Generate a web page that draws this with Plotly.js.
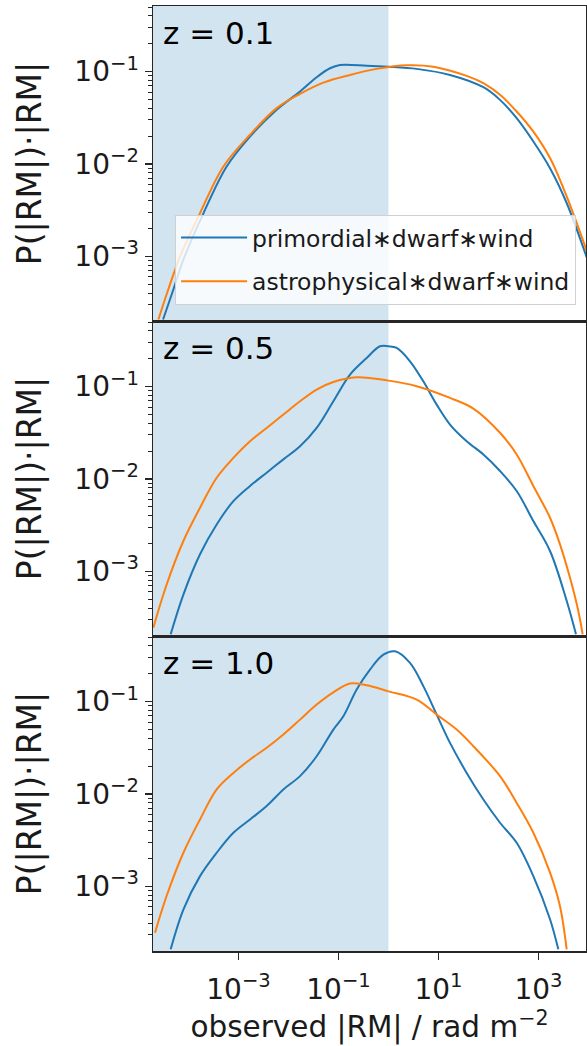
<!DOCTYPE html>
<html>
<head>
<meta charset="utf-8">
<script src="https://cdn.plot.ly/plotly-3.0.1.min.js"></script>
<style>
  html, body { margin: 0; padding: 0; background: #fff; }
  #chart { width: 587px; height: 1046px; }
</style>
</head>
<body>
<div id="chart"></div>
<script>
// Distributions of observed |RM| for two magnetic field scenarios at three redshifts.
const seriesNames = ['primordial\u2217dwarf\u2217wind', 'astrophysical\u2217dwarf\u2217wind'];
const redshiftLabels = ['z = 0.1', 'z = 0.5', 'z = 1.0'];

// z = 0.1
const rmPrim01 = [3.1e-5, 5.0e-5, 7.9e-5, 2.0e-4, 5.8e-4, 1.7e-3, 5.8e-3, 0.017, 0.0366, 0.0676, 0.107, 0.366, 1.0, 3.66, 17, 79, 170, 366, 789, 1700, 3660, 9300];
const pPrim01  = [2.07e-4, 4.4e-4, 9.2e-4, 2.94e-3, 9.4e-3, 0.0198, 0.0386, 0.0608, 0.0869, 0.1087, 0.118, 0.116, 0.113, 0.107, 0.092, 0.0677, 0.0494, 0.0313, 0.0175, 9.0e-3, 3.78e-3, 9.6e-4];
const rmAstro01 = [2.5e-5, 3.95e-5, 6.8e-5, 1.7e-4, 5.0e-4, 1.7e-3, 5.8e-3, 0.017, 0.0498, 0.17, 0.58, 2.31, 7.9, 36.6, 79, 170, 366, 789, 1700, 3660, 9300];
const pAstro01  = [2.07e-4, 4.4e-4, 1.0e-3, 2.94e-3, 9.4e-3, 0.0207, 0.0402, 0.0574, 0.076, 0.092, 0.107, 0.117, 0.113, 0.0898, 0.0748, 0.056, 0.037, 0.0224, 0.0116, 4.46e-3, 1.13e-3];

// z = 0.5
const rmPrim05 = [4.4e-5, 7.9e-5, 1.7e-4, 3.66e-4, 7.9e-4, 1.7e-3, 3.66e-3, 7.9e-3, 0.017, 0.0366, 0.0789, 0.17, 0.366, 0.676, 1.0, 1.46, 2.69, 4.97, 9.2, 17, 36.6, 79, 170, 366, 789, 1700, 3660, 5620];
const pPrim05  = [2.08e-4, 5.6e-4, 1.53e-3, 3.22e-3, 5.75e-3, 8.4e-3, 0.0117, 0.0163, 0.0226, 0.0357, 0.0693, 0.135, 0.204, 0.273, 0.273, 0.262, 0.188, 0.114, 0.0638, 0.0388, 0.0256, 0.0184, 0.0122, 7.4e-3, 3.5e-3, 1.66e-3, 4.8e-4, 2.08e-4];
const rmAstro05 = [1.98e-5, 3.66e-5, 7.9e-5, 1.7e-4, 3.66e-4, 7.9e-4, 1.7e-3, 3.66e-3, 7.9e-3, 0.017, 0.0366, 0.0789, 0.231, 1.0, 3.66, 17, 49.8, 170, 366, 789, 1700, 2690, 4270, 6270, 7640];
const pAstro05  = [2.46e-4, 7.2e-4, 2.13e-3, 4.88e-3, 0.0103, 0.0169, 0.0256, 0.0357, 0.0498, 0.0693, 0.0929, 0.112, 0.126, 0.116, 0.101, 0.0754, 0.0578, 0.0316, 0.0184, 8.4e-3, 3.8e-3, 1.96e-3, 8.5e-4, 3.7e-4, 2.08e-4];

// z = 1.0
const rmPrim10 = [4.4e-5, 7.9e-5, 1.7e-4, 3.66e-4, 7.9e-4, 1.7e-3, 3.66e-3, 7.9e-3, 0.017, 0.0366, 0.0789, 0.125, 0.231, 0.426, 0.789, 1.35, 2.69, 4.97, 9.2, 17, 36.6, 79, 170, 366, 789, 1700, 2490];
const pPrim10  = [2.08e-4, 5.6e-4, 1.29e-3, 2.31e-3, 3.8e-3, 5.3e-3, 7.4e-3, 0.0112, 0.0156, 0.0256, 0.0498, 0.0693, 0.135, 0.222, 0.322, 0.35, 0.262, 0.147, 0.0723, 0.0357, 0.0169, 8.7e-3, 4.88e-3, 2.96e-3, 1.29e-3, 4.4e-4, 2.08e-4];
const rmAstro10 = [2.14e-5, 3.66e-5, 7.9e-5, 1.7e-4, 3.66e-4, 7.9e-4, 1.7e-3, 3.66e-3, 7.9e-3, 0.017, 0.0366, 0.0789, 0.17, 0.366, 1.0, 3.66, 9.2, 23.1, 49.8, 170, 366, 789, 1700, 2690, 3660];
const pAstro10  = [3.15e-4, 7.9e-4, 2.31e-3, 5.3e-3, 0.0112, 0.0169, 0.0236, 0.0316, 0.044, 0.0638, 0.0929, 0.126, 0.157, 0.150, 0.129, 0.105, 0.0723, 0.0498, 0.0329, 0.0156, 8.0e-3, 3.8e-3, 1.41e-3, 6.1e-4, 2.08e-4];

// Upper edge of the shaded |RM| band
const shadeUpper = 1;

// Axis ticks
const xTickVals = [1e-3, 1e-1, 1e1, 1e3];
const xTickText = ['10<sup>\u22123</sup>', '10<sup>\u22121</sup>', '10<sup>1</sup>', '10<sup>3</sup>'];
const yTickVals = [1e-3, 1e-2, 1e-1];
const yTickText = ['10<sup>\u22123</sup>', '10<sup>\u22122</sup>', '10<sup>\u22121</sup>'];
const yMinorVals = [3e-4, 4e-4, 5e-4, 6e-4, 7e-4, 8e-4, 9e-4,
                    2e-3, 3e-3, 4e-3, 5e-3, 6e-3, 7e-3, 8e-3, 9e-3,
                    2e-2, 3e-2, 4e-2, 5e-2, 6e-2, 7e-2, 8e-2, 9e-2,
                    2e-1, 3e-1, 4e-1, 5e-1];

const panels = [
  { label: redshiftLabels[0], prim: [rmPrim01, pPrim01], astro: [rmAstro01, pAstro01] },
  { label: redshiftLabels[1], prim: [rmPrim05, pPrim05], astro: [rmAstro05, pAstro05] },
  { label: redshiftLabels[2], prim: [rmPrim10, pPrim10], astro: [rmAstro10, pAstro10] }
];

const colors = ['#1f77b4', '#ff7f0e'];
const font = 'DejaVu Sans, sans-serif';
const frameColor = '#262626';
const textColor = '#1a1a1a';

const traces = [];
const layout = {
  width: 587,
  height: 1046,
  margin: { l: 153, r: 1, t: 6, b: 95 },
  paper_bgcolor: '#ffffff',
  plot_bgcolor: '#ffffff',
  font: { family: font, size: 28, color: textColor },
  showlegend: true,
  legend: {
    x: 0.051, y: 0.779, xanchor: 'left', yanchor: 'top',
    bgcolor: 'rgba(255,255,255,0.8)',
    bordercolor: '#d0d0d0', borderwidth: 1,
    font: { family: font, size: 23.5, color: textColor },
    traceorder: 'grouped', tracegroupgap: 10,
    itemwidth: 66
  },
  shapes: [],
  annotations: []
};

panels.forEach((p, i) => {
  const n = i + 1;
  const xa = 'x' + (n === 1 ? '' : n);
  const ya = 'y' + (n === 1 ? '' : n);
  const lower = 1 - (i + 1) / 3;
  const upper = 1 - i / 3;

  [p.prim, p.astro].forEach((s, k) => {
    traces.push({
      x: s[0], y: s[1],
      xaxis: xa, yaxis: ya,
      type: 'scatter', mode: 'lines',
      line: { color: colors[k], width: 2, shape: 'spline', smoothing: 1.0 },
      name: seriesNames[k],
      legendgroup: 'g' + k,
      showlegend: i === 0,
      hoverinfo: 'skip'
    });
  });

  const isBottom = i === panels.length - 1;
  layout['xaxis' + (n === 1 ? '' : n)] = {
    type: 'log',
    range: [-4.71, 3.95],
    anchor: ya,
    matches: n === 1 ? undefined : 'x',
    showline: true, mirror: true, linecolor: frameColor, linewidth: 1.5,
    showgrid: false, zeroline: false,
    tickmode: 'array', tickvals: xTickVals, ticktext: xTickText,
    showticklabels: isBottom,
    ticks: isBottom ? 'outside' : '', ticklen: 7, tickwidth: 1.2, tickcolor: frameColor,
    ticklabelstandoff: 6,
    tickfont: { family: font, size: 28, color: textColor },
    title: isBottom ? { text: 'observed |RM| / rad m<sup>\u22122</sup>', font: { family: font, size: 29.5, color: textColor }, standoff: 1 } : undefined
  };
  layout['yaxis' + (n === 1 ? '' : n)] = {
    type: 'log',
    range: [-3.7, -0.29],
    domain: [lower, upper],
    anchor: xa,
    showline: true, mirror: true, linecolor: frameColor, linewidth: 1.5,
    showgrid: false, zeroline: false,
    tickmode: 'array', tickvals: yTickVals, ticktext: yTickText,
    ticks: 'outside', ticklen: 7, tickwidth: 1.2, tickcolor: frameColor,
    minor: { tickmode: 'array', tickvals: yMinorVals, ticks: 'outside', ticklen: 4, tickwidth: 1, tickcolor: frameColor },
    tickfont: { family: font, size: 28, color: textColor },
    title: { text: 'P(|RM|)\u00b7|RM|', font: { family: font, size: 33, color: textColor }, standoff: 23 }
  };

  layout.shapes.push({
    type: 'rect', xref: xa, yref: ya + ' domain', layer: 'below',
    x0: 1e-6, x1: shadeUpper, y0: 0, y1: 1,
    fillcolor: 'rgba(31,119,180,0.2)', line: { width: 0 }
  });

  layout.annotations.push({
    text: p.label, xref: xa + ' domain', yref: ya + ' domain',
    x: 0.018, y: 0.914, xanchor: 'left', yanchor: 'middle',
    showarrow: false, font: { family: font, size: 31, color: '#000' }
  });
});

Plotly.newPlot('chart', traces, layout, { staticPlot: true, displayModeBar: false });
</script>
</body>
</html>
